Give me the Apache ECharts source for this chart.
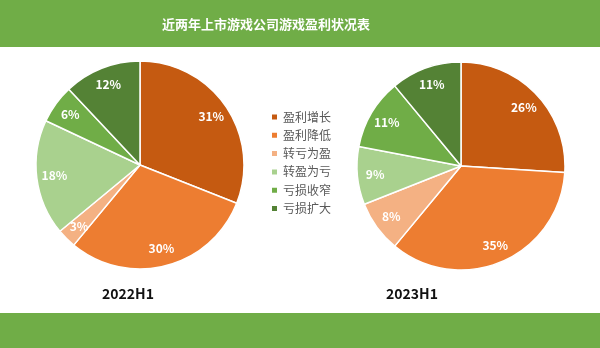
<!DOCTYPE html>
<html>
<head>
<meta charset="utf-8">
<script src="https://cdn.jsdelivr.net/npm/echarts@6/dist/echarts.min.js"></script>
<style>
  html, body { margin: 0; padding: 0; background: #fff; }
  #chart { width: 600px; height: 348px; }
</style>
</head>
<body>
<div id="chart"></div>
<script>
// Profit status categories of listed game companies
const categories = ['盈利增长', '盈利降低', '转亏为盈', '转盈为亏', '亏损收窄', '亏损扩大'];
const colors = ['#C55A11', '#ED7D31', '#F4B183', '#A9D18E', '#70AD47', '#548235'];
const share2022 = [31, 30, 3, 18, 6, 12];
const share2023 = [26, 35, 8, 9, 11, 11];
const periods = ['2022H1', '2023H1'];

const FONT = '"Noto Sans CJK SC", "Microsoft YaHei", sans-serif';
const R = 104;

function sliceData(values) {
  return categories.map((name, i) => ({
    name, value: values[i], itemStyle: { color: colors[i] }
  }));
}

// A pie of coloured wedges plus a transparent ring that carries the labels near the rim
function pieSeries(values, center) {
  return [
    {
      type: 'pie', center, radius: [0, R], startAngle: 90, clockwise: true,
      label: { show: false }, labelLine: { show: false },
      itemStyle: { borderColor: '#fff', borderWidth: 1.5 },
      emphasis: { disabled: true }, silent: true,
      data: sliceData(values)
    },
    {
      type: 'pie', center, radius: [R * 0.6, R], startAngle: 90, clockwise: true,
      silent: true, emphasis: { disabled: true },
      itemStyle: { color: 'transparent', borderWidth: 0 },
      label: {
        show: true, position: 'inside', color: '#fff', fontWeight: 'bold',
        fontSize: 12, fontFamily: FONT, formatter: '{c}%'
      },
      labelLine: { show: false },
      data: categories.map((name, i) => ({ name, value: values[i] }))
    }
  ];
}

const chart = echarts.init(document.getElementById('chart'), null, { renderer: 'canvas' });
chart.setOption({
  animation: false,
  backgroundColor: '#fff',
  graphic: [
    { type: 'rect', left: 0, top: 0, z: -1, shape: { width: 600, height: 47 }, style: { fill: '#70AD47' } },
    { type: 'rect', left: 0, top: 313, z: -1, shape: { width: 600, height: 35 }, style: { fill: '#70AD47' } },
    { type: 'text', left: 162, top: 18, style: { text: '近两年上市游戏公司游戏盈利状况表', fill: '#fff', font: 'bold 13px ' + FONT } },
    { type: 'text', x: 128, y: 294, style: { text: periods[0], fill: '#111', font: 'bold 14px ' + FONT, textAlign: 'center', textVerticalAlign: 'middle' } },
    { type: 'text', x: 412, y: 294, style: { text: periods[1], fill: '#111', font: 'bold 14px ' + FONT, textAlign: 'center', textVerticalAlign: 'middle' } }
  ],
  legend: {
    orient: 'vertical', left: 265, top: 106,
    icon: 'rect', itemWidth: 7, itemHeight: 7, itemGap: 6.3,
    textStyle: { color: '#595959', fontSize: 12, fontFamily: FONT, lineHeight: 12 },
    selectedMode: false,
    data: categories.map((name, i) => ({ name, itemStyle: { color: colors[i] } }))
  },
  series: [
    ...pieSeries(share2022, [140, 165]),
    ...pieSeries(share2023, [461, 166])
  ]
});
</script>
</body>
</html>
